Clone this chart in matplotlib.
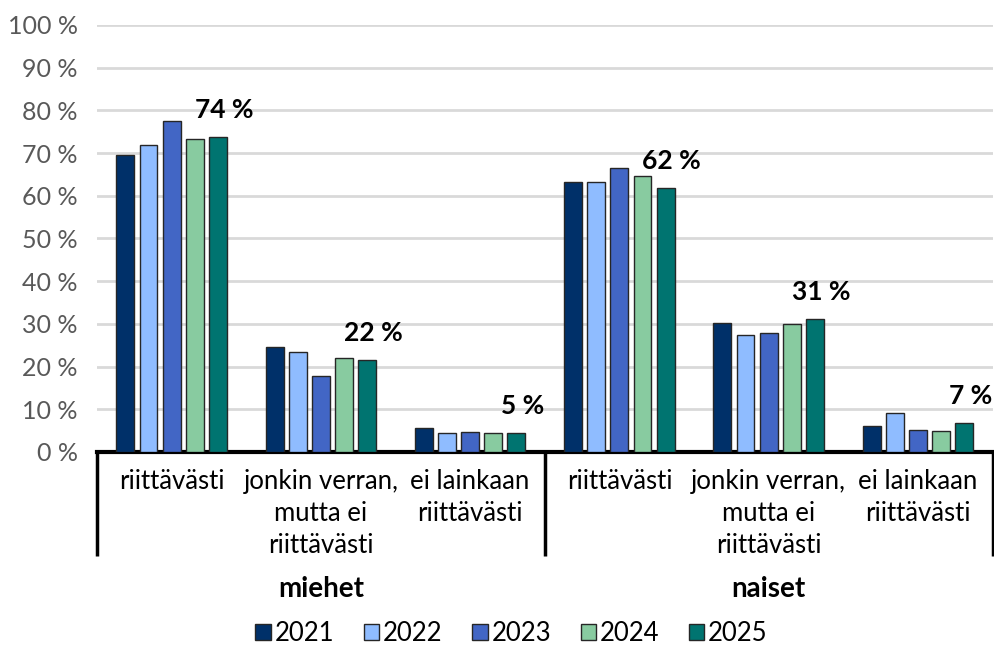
import numpy as np
import matplotlib
matplotlib.use("Agg")
import matplotlib.pyplot as plt

plt.rcParams['font.family'] = ['Lato', 'DejaVu Sans']

# Kysymysvastaukset: miehet ja naiset, vuodet 2021-2025
categories = ["riittävästi", "jonkin verran,\nmutta ei\nriittävästi", "ei lainkaan\nriittävästi",
              "riittävästi", "jonkin verran,\nmutta ei\nriittävästi", "ei lainkaan\nriittävästi"]
groups = ["miehet", "naiset"]
years = ["2021", "2022", "2023", "2024", "2025"]

v2021 = [69.6, 24.6, 5.7, 63.3, 30.3, 6.2]
v2022 = [71.9, 23.3, 4.4, 63.2, 27.4, 9.1]
v2023 = [77.4, 17.7, 4.7, 66.6, 27.9, 5.2]
v2024 = [73.2, 22.1, 4.4, 64.7, 30.0, 5.0]
v2025 = [73.7, 21.5, 4.5, 61.8, 31.1, 6.9]
labels2025 = ["74 %", "22 %", "5 %", "62 %", "31 %", "7 %"]

series = [v2021, v2022, v2023, v2024, v2025]
colors = ["#003069", "#8fbcff", "#4266c5", "#88cba0", "#007470"]

fig = plt.figure(figsize=(9.95, 6.48), dpi=100)
ax = fig.add_axes([0.0975, 0.3025, 0.9, 0.659])

x = np.arange(len(categories))
width = 0.12
step = 0.155
for i, (vals, col, yr) in enumerate(zip(series, colors, years)):
    pos = x + (i - 2) * step
    ax.bar(pos, vals, width, color=col, edgecolor="#262626", linewidth=1.0, label=yr, zorder=3)

# arvot viimeisen vuoden pylväiden yläpuolelle
pos25 = x + 2 * step
for px, v, txt in zip(pos25, v2025, labels2025):
    ax.annotate(txt, (px, v), xytext=(6, 27), textcoords="offset pixels",
                ha="center", va="center", fontsize=19, fontweight="bold", color="black")

ax.set_xlim(-0.5, 5.5)
ax.set_ylim(0, 100)
ax.set_yticks(np.arange(0, 101, 10))
ax.set_yticklabels([f"{t} %" for t in range(0, 101, 10)])
ax.tick_params(axis="y", length=0, labelsize=18, labelcolor="#595959", pad=14)
ax.set_xticks([])
ax.grid(axis="y", color="#d9d9d9", linewidth=2, zorder=0)
for s in ["top", "right", "left"]:
    ax.spines[s].set_visible(False)
ax.spines["bottom"].set_linewidth(3)
ax.spines["bottom"].set_color("black")

# kategoriat ja erotinviivat akselin alle
tr = ax.get_xaxis_transform()
for xi, cat in zip(x, categories):
    ax.text(xi, -0.04, cat, transform=tr, ha="center", va="top",
            fontsize=18.5, color="black", linespacing=1.35)
for xs in [-0.5, 2.5, 5.5]:
    ax.plot([xs, xs], [0, -0.243], transform=tr, color="black", linewidth=2.5,
            clip_on=False, solid_capstyle="butt")
for gx, g in zip([1, 4], groups):
    ax.text(gx, -0.322, g, transform=tr, ha="center", va="center",
            fontsize=20, fontweight="bold", color="black")

leg = ax.legend(loc="center", bbox_to_anchor=(0.463, -0.425), ncol=5, frameon=False,
                fontsize=18.5, handlelength=0.6, handleheight=0.6, handletextpad=0.15,
                columnspacing=1.15, borderpad=0.2)
for h in leg.legend_handles:
    h.set_edgecolor("#262626")

fig.savefig("out.png", dpi=100)
